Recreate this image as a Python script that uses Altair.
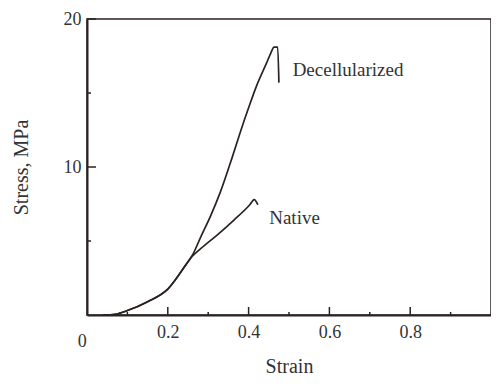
import altair as alt
import pandas as pd

# Stress-strain curves
decel_strain = [0.04, 0.07, 0.10, 0.15, 0.20, 0.25, 0.26, 0.282, 0.306, 0.33, 0.36, 0.38, 0.40, 0.42, 0.444, 0.455, 0.463, 0.472, 0.475]
decel_stress = [0.0, 0.05, 0.3, 0.9, 1.75, 3.6, 4.0, 5.3, 6.7, 8.3, 10.7, 12.4, 14.0, 15.5, 17.0, 17.7, 18.1, 18.1, 15.7]

native_strain = [0.04, 0.07, 0.10, 0.15, 0.20, 0.25, 0.26, 0.282, 0.322, 0.363, 0.403, 0.414, 0.423]
native_stress = [0.0, 0.05, 0.3, 0.9, 1.75, 3.6, 3.95, 4.5, 5.4, 6.4, 7.45, 7.8, 7.45]

x_major = [0.2, 0.4, 0.6, 0.8]
x_minor = [0.1, 0.3, 0.5, 0.7, 0.9]
y_major = [10, 20]
y_minor = [5, 15]

labels = ["Decellularized", "Native"]
label_x = [0.509, 0.451]
label_y = [16.55, 6.55]

W, H = 404, 296
INK = "#2b2222"
FONT = "Liberation Serif"

curves = pd.DataFrame(
    {"strain": decel_strain, "stress": decel_stress, "series": "Decellularized"}
)
curves = pd.concat(
    [curves, pd.DataFrame({"strain": native_strain, "stress": native_stress, "series": "Native"})]
)

xscale = alt.Scale(domain=[0, 1], nice=False, zero=False)
yscale = alt.Scale(domain=[0, 20], nice=False)

lines = alt.Chart(curves).mark_line(color=INK, strokeWidth=1.7, interpolate="monotone").encode(
    x=alt.X("strain:Q", scale=xscale,
            axis=alt.Axis(values=x_major, format=".1f", title="Strain", tickSize=0,
                          labelPadding=8, titlePadding=15, grid=False,
                          domainColor=INK, domainWidth=2)),
    y=alt.Y("stress:Q", scale=yscale,
            axis=alt.Axis(values=y_major, title="Stress, MPa", tickSize=0,
                          labelPadding=6, titlePadding=32, grid=False,
                          domainColor=INK, domainWidth=2)),
    detail="series:N",
    order="idx:Q",
).transform_window(idx="row_number()", groupby=["series"])

xmaj = alt.Chart(pd.DataFrame({"v": x_major})).mark_rule(color=INK, strokeWidth=1.5).encode(
    x=alt.X("v:Q", scale=xscale), y=alt.value(H), y2=alt.value(H - 8))
xmin = alt.Chart(pd.DataFrame({"v": x_minor})).mark_rule(color=INK, strokeWidth=1.5).encode(
    x=alt.X("v:Q", scale=xscale), y=alt.value(H), y2=alt.value(H - 3))
ymaj = alt.Chart(pd.DataFrame({"v": y_major})).mark_rule(color=INK, strokeWidth=1.5).encode(
    y=alt.Y("v:Q", scale=yscale), x=alt.value(0), x2=alt.value(9))
ymin = alt.Chart(pd.DataFrame({"v": y_minor})).mark_rule(color=INK, strokeWidth=1.5).encode(
    y=alt.Y("v:Q", scale=yscale), x=alt.value(0), x2=alt.value(4))

ann = alt.Chart(pd.DataFrame({"t": labels, "x": label_x, "y": label_y})).mark_text(
    font=FONT, fontSize=19, align="left", baseline="middle", color="#333333"
).encode(x=alt.X("x:Q", scale=xscale), y=alt.Y("y:Q", scale=yscale), text="t:N")

zero = alt.Chart(pd.DataFrame({"t": ["0"], "x": [-0.012], "y": [-1.85]})).mark_text(
    font=FONT, fontSize=18, align="center", baseline="middle", color="#333333"
).encode(x=alt.X("x:Q", scale=xscale), y=alt.Y("y:Q", scale=yscale), text="t:N")

chart = alt.layer(lines, xmaj, xmin, ymaj, ymin, ann, zero).properties(
    width=W, height=H,
    autosize=alt.AutoSizeParams(type="none"),
    padding={"left": 79, "top": 11, "right": 0, "bottom": 67},
).configure_view(
    stroke=INK, strokeWidth=1.5
).configure_axis(
    labelFont=FONT, labelFontSize=18, labelColor="#333333",
    titleFont=FONT, titleFontSize=20, titleFontWeight="normal", titleColor="#333333",
)

chart.save("out.html", embed_options={"renderer": "svg", "actions": False})
